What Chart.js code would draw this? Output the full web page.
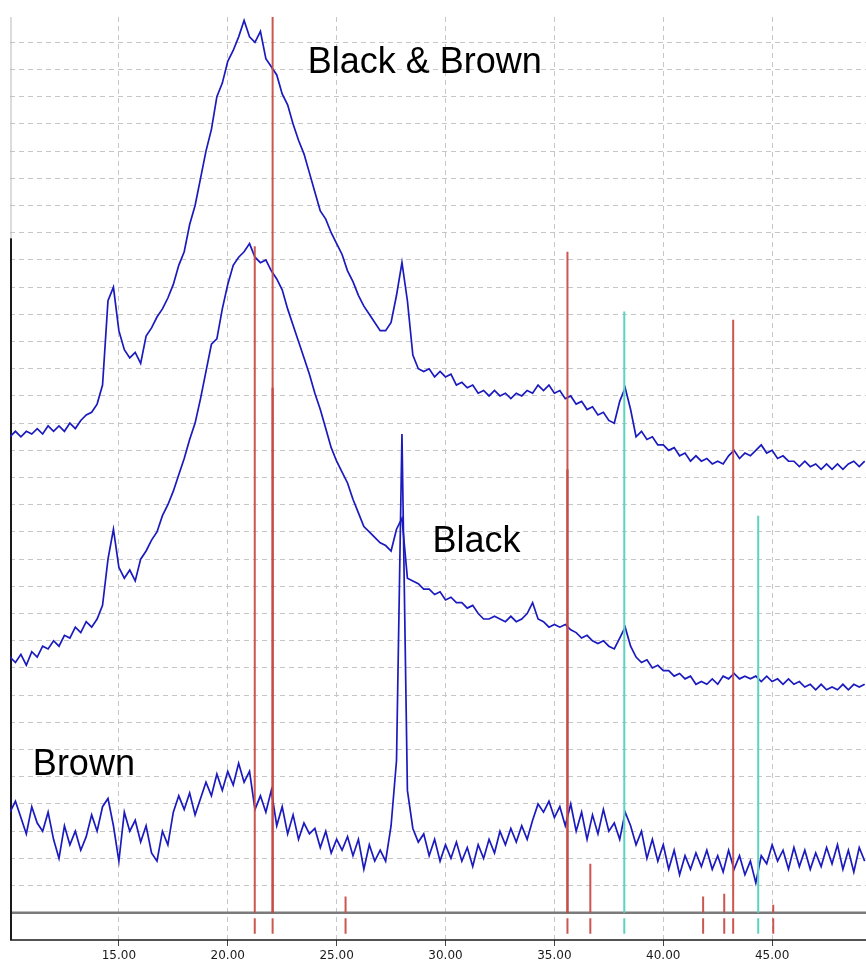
<!DOCTYPE html>
<html>
<head>
<meta charset="utf-8">
<title>XRD - Black, Brown, Black &amp; Brown</title>
<script src="https://cdn.jsdelivr.net/npm/chart.js@4.4.1/dist/chart.umd.min.js"></script>
<style>
    html, body { margin: 0; padding: 0; background: #fff; }
    #wrap { width: 866px; height: 969px; position: relative; }
</style>
</head>
<body>
<div id="wrap"><canvas id="xrdChart"></canvas></div>
<script>
// scan: 2-theta from 10.00 in 0.25 deg steps
const scanStart = 10;
const scanStep = 0.25;

// intensities (a.u.), one value per scan step
const blackBrown = [
    185,187,185,187,186,188,186,189,187,189,
    187,190,188,191,193,194,197,204,235,240,
    224,217,214,216,212,222,225,229,232,236,
    241,248,253,263,270,280,290,298,310,315,
    323,327,332,338,332,330,334,324,321,318,
    311,307,300,294,289,282,275,268,265,260,
    256,252,246,242,237,233,230,227,224,224,
    227,237,249,235,215,210,209,210,207,209,
    207,208,204,205,203,204,201,202,200,202,
    200,201,199,201,200,202,201,204,202,204,
    201,202,199,200,197,198,195,196,193,194,
    191,190,198,203,195,185,187,184,185,182,
    182,180,181,178,179,176,178,176,177,175,
    176,175,178,180,177,179,178,180,182,179,
    180,177,178,176,176,174,176,174,175,173,
    175,173,175,173,175,176,174,176
];
const black = [
    104,102,105,101,106,104,108,107,110,108,
    112,111,115,113,117,115,118,123,140,151,
    137,133,136,132,140,143,147,150,156,160,
    165,171,177,184,190,199,209,219,221,232,
    241,248,251,253,256,251,249,250,246,243,
    239,232,226,220,214,208,201,195,188,181,
    176,172,168,162,157,152,150,148,146,145,
    143,151,155,133,132,131,129,129,127,128,
    125,126,124,124,122,123,120,118,118,119,
    118,117,119,117,118,120,124,118,117,115,
    116,115,116,114,113,111,112,110,109,110,
    108,107,111,115,108,104,102,103,100,101,
    99,99,97,98,96,97,94,95,94,96,
    94,97,96,98,96,97,96,97,95,97,
    95,96,94,96,94,95,93,94,92,94,
    92,93,92,94,92,94,93,94
];
const brown = [
    47,51,45,39,49,43,40,47,37,30,
    42,35,40,33,38,46,40,49,52,42,
    29,47,40,44,36,42,32,29,40,35,
    47,53,48,54,46,52,58,53,61,55,
    62,57,65,58,62,48,53,47,55,42,
    49,39,46,37,43,39,41,34,40,32,
    37,33,38,31,37,26,35,29,33,29,
    42,66,186,55,41,36,39,31,37,29,
    35,30,36,29,34,27,35,30,37,32,
    40,35,41,36,42,37,44,50,47,51,
    45,49,42,50,40,47,37,46,39,48,
    40,43,37,47,42,35,40,30,37,29,
    35,26,33,24,31,26,32,27,33,26,
    31,25,33,26,31,24,29,21,31,28,
    35,29,33,26,34,27,33,26,32,27,
    34,28,35,26,33,25,34,29
];

// reference pattern sticks
const redAngles = [21.24, 22.06, 25.41, 35.60, 36.65, 41.83, 42.80, 43.21, 45.05];
const redTops = [255, 339.3, 16, 253, 28, 16, 17, 228, 13];
const tealAngles = [38.21, 44.36];
const tealTops = [231, 156];
const overlapAngles = [22.06, 35.60];
const overlapTops = [203, 173];
const stickBase = 10;
const stubRange = [2.3, 8];

const angleTicks = [15, 20, 25, 30, 35, 40, 45];
const labelTexts = ['Black & Brown', 'Black', 'Brown'];
const labelAngles = [23.67, 29.4, 11.05];
const labelLevels = [318.8, 142.6, 60.7];

const xMin = 10;
const xMax = 49.31;
const yMax = 339.3;

function toPoints(values) {
    return values.map((v, i) => ({ x: scanStart + i * scanStep, y: v }));
}

// each stick: a line from base to top, then a short stub under the baseline
function stickPoints(angles, tops, withStub) {
    const pts = [];
    angles.forEach((a, i) => {
        pts.push({ x: a, y: stickBase }, { x: a, y: tops[i] }, { x: a, y: null });
        if (withStub) {
            pts.push({ x: a, y: stubRange[0] }, { x: a, y: stubRange[1] }, { x: a, y: null });
        }
    });
    return pts;
}

const framePlugin = {
    id: 'frame',
    beforeDatasetsDraw(chart) {
        const { ctx, chartArea, scales } = chart;
        const y = scales.y;
        ctx.save();
        // grey baseline under the patterns
        const yb = y.getPixelForValue(stickBase);
        ctx.strokeStyle = '#7b7b7b';
        ctx.lineWidth = 2.5;
        ctx.beginPath();
        ctx.moveTo(chartArea.left, yb);
        ctx.lineTo(chartArea.right, yb);
        ctx.stroke();
        // bottom frame
        const y0 = y.getPixelForValue(0);
        ctx.strokeStyle = '#1a1a1a';
        ctx.lineWidth = 1.5;
        ctx.beginPath();
        ctx.moveTo(chartArea.left, y0);
        ctx.lineTo(chartArea.right, y0);
        ctx.stroke();
        // left frame: dark at the bottom, faint above
        const ySplit = y.getPixelForValue(258);
        ctx.lineWidth = 2;
        ctx.beginPath();
        ctx.moveTo(chartArea.left + 1, y0);
        ctx.lineTo(chartArea.left + 1, ySplit);
        ctx.stroke();
        ctx.strokeStyle = '#b8b8b8';
        ctx.lineWidth = 1;
        ctx.beginPath();
        ctx.moveTo(chartArea.left + 1, ySplit);
        ctx.lineTo(chartArea.left + 1, chartArea.top);
        ctx.stroke();
        ctx.restore();
    },
    afterDatasetsDraw(chart) {
        const { ctx, scales } = chart;
        ctx.save();
        ctx.fillStyle = '#000';
        ctx.font = '36px "Liberation Sans", Arial, sans-serif';
        ctx.textAlign = 'left';
        ctx.textBaseline = 'alphabetic';
        labelTexts.forEach((t, i) => {
            ctx.fillText(t, scales.x.getPixelForValue(labelAngles[i]), scales.y.getPixelForValue(labelLevels[i]));
        });
        ctx.restore();
    }
};

const curveStyle = {
    borderColor: 'rgb(26, 26, 190)',
    borderWidth: 1.7,
    pointRadius: 0,
    tension: 0,
    fill: false,
    order: 2
};
const stickStyle = {
    borderWidth: 2,
    pointRadius: 0,
    tension: 0,
    fill: false,
    spanGaps: false,
    order: 1
};

const ctx = document.getElementById('xrdChart').getContext('2d');
new Chart(ctx, {
    type: 'line',
    data: {
        datasets: [
            Object.assign({ label: 'Black & Brown', data: toPoints(blackBrown) }, curveStyle),
            Object.assign({ label: 'Black', data: toPoints(black) }, curveStyle),
            Object.assign({ label: 'Brown', data: toPoints(brown) }, curveStyle),
            Object.assign({ label: 'ref', data: stickPoints(redAngles, redTops, true), borderColor: 'rgba(200, 78, 72, 0.95)' }, stickStyle),
            Object.assign({ label: 'ref2', data: stickPoints(tealAngles, tealTops, true), borderColor: 'rgb(92, 212, 190)' }, stickStyle),
            Object.assign({ label: 'ref3', data: stickPoints(overlapAngles, overlapTops, false), borderColor: 'rgb(168, 44, 40)', borderWidth: 2.5 }, stickStyle)
        ]
    },
    options: {
        responsive: true,
        maintainAspectRatio: false,
        animation: false,
        devicePixelRatio: 1,
        layout: { padding: { top: 17, left: 10, right: 0, bottom: 0 } },
        plugins: {
            legend: { display: false },
            tooltip: { enabled: false }
        },
        scales: {
            x: {
                type: 'linear',
                min: xMin,
                max: xMax,
                afterBuildTicks: (s) => { s.ticks = angleTicks.map(v => ({ value: v })); },
                afterFit: (s) => { s.height = 29; },
                grid: {
                    color: '#c6c6c6',
                    lineWidth: 1,
                    drawTicks: true,
                    tickLength: 6,
                    tickColor: '#444',
                    tickBorderDash: [],
                    tickWidth: 1
                },
                border: { display: false, dash: [5, 4] },
                ticks: {
                    color: '#1a1a1a',
                    font: { family: 'DejaVu Sans', size: 12 },
                    padding: 3,
                    maxRotation: 0,
                    autoSkip: false,
                    callback: (v) => Number(v).toFixed(2)
                }
            },
            y: {
                type: 'linear',
                min: 0,
                max: yMax,
                afterBuildTicks: (s) => {
                    const t = [];
                    for (let v = 20; v < yMax; v += 10) t.push({ value: v });
                    s.ticks = t;
                },
                afterFit: (s) => { s.width = 0; },
                ticks: { display: false },
                grid: { color: '#c6c6c6', lineWidth: 1, drawTicks: false },
                border: { display: false, dash: [5, 4] }
            }
        }
    },
    plugins: [framePlugin]
});
</script>
</body>
</html>
